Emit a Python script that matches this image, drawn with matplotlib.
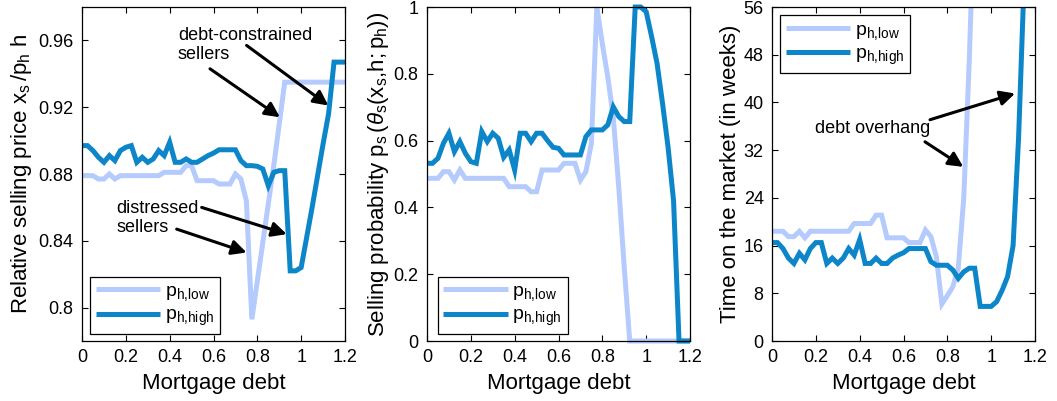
import numpy as np
import matplotlib
matplotlib.use("Agg")
import matplotlib.pyplot as plt

plt.rcParams['font.family'] = ['Liberation Sans', 'DejaVu Sans']
plt.rcParams['mathtext.fontset'] = 'custom'
plt.rcParams['mathtext.rm'] = 'Liberation Sans'
plt.rcParams['mathtext.it'] = 'Liberation Sans:italic'

# ---- data ----
debt = np.linspace(0, 1.2, 49)

price_low = [0.879, 0.879, 0.879, 0.877, 0.877, 0.880, 0.877, 0.879, 0.879, 0.879,
             0.879, 0.879, 0.879, 0.879, 0.879, 0.881, 0.881, 0.881, 0.881, 0.885,
             0.885, 0.876, 0.876, 0.876, 0.876, 0.874, 0.874, 0.874, 0.880, 0.877,
             0.864, 0.793, 0.816, 0.839, 0.862, 0.885, 0.910, 0.935, 0.935, 0.935,
             0.935, 0.935, 0.935, 0.935, 0.935, 0.935, 0.935, 0.935, 0.935]
price_high = [0.897, 0.897, 0.894, 0.890, 0.887, 0.891, 0.888, 0.894, 0.896, 0.897,
              0.887, 0.890, 0.887, 0.889, 0.894, 0.891, 0.899, 0.887, 0.887, 0.889,
              0.887, 0.887, 0.889, 0.891, 0.8925, 0.8945, 0.8945, 0.8945, 0.8945, 0.888,
              0.885, 0.885, 0.8846, 0.883, 0.873, 0.881, 0.882, 0.882, 0.822, 0.822,
              0.824, 0.842, 0.860, 0.879, 0.898, 0.916, 0.947, 0.947, 0.947]

prob_low = [0.487, 0.487, 0.487, 0.507, 0.507, 0.482, 0.512, 0.487, 0.487, 0.487,
            0.487, 0.487, 0.487, 0.487, 0.487, 0.462, 0.462, 0.462, 0.462, 0.447,
            0.447, 0.512, 0.512, 0.512, 0.512, 0.532, 0.532, 0.532, 0.482, 0.507,
            0.592, 1.0, 0.89, 0.79, 0.67, 0.46, 0.22, 0.0, 0.0, 0.0,
            0.0, 0.0, 0.0, 0.0, 0.0, 0.0, 0.0, 0.0, 0.0]
prob_high = [0.532, 0.532, 0.547, 0.592, 0.622, 0.567, 0.597, 0.562, 0.537, 0.532,
             0.627, 0.597, 0.622, 0.607, 0.550, 0.572, 0.512, 0.622, 0.622, 0.597,
             0.622, 0.622, 0.600, 0.580, 0.577, 0.557, 0.557, 0.557, 0.557, 0.612,
             0.632, 0.632, 0.632, 0.647, 0.701, 0.672, 0.657, 0.657, 1.0, 1.0,
             0.986, 0.911, 0.83, 0.71, 0.58, 0.42, 0.0, 0.0, 0.0]

nan = np.nan
tom_low = [18.4, 18.4, 18.4, 17.5, 17.5, 18.4, 17.3, 18.4, 18.4, 18.4,
           18.4, 18.4, 18.4, 18.4, 18.4, 19.7, 19.7, 19.7, 19.7, 21.1,
           21.1, 17.3, 17.3, 17.3, 17.3, 16.5, 16.5, 16.5, 18.6, 17.5,
           14.1, 6.2, 7.6, 9.1, 12.3, 24.0, 47.0, 75.0, nan, nan,
           nan, nan, nan, nan, nan, nan, nan, nan, nan]
tom_high = [16.5, 16.5, 15.5, 13.9, 13.0, 14.7, 13.6, 15.5, 16.5, 16.5,
            13.0, 13.9, 13.0, 13.9, 15.5, 14.4, 17.0, 13.0, 13.0, 13.9,
            13.0, 13.0, 13.9, 14.4, 14.8, 15.5, 15.5, 15.5, 15.5, 13.3,
            12.7, 12.7, 12.7, 11.9, 10.5, 11.6, 12.2, 12.2, 5.8, 5.8,
            5.8, 6.6, 8.5, 10.8, 16.0, 34.0, 60.0, nan, nan]

xticks = [0, 0.2, 0.4, 0.6, 0.8, 1.0, 1.2]
xticklabels = ['0', '0.2', '0.4', '0.6', '0.8', '1', '1.2']
legend_labels = [r'$\mathregular{p_{h{,}low}}$', r'$\mathregular{p_{h{,}high}}$']

c_low = '#B5CBFD'
c_high = '#0C86C8'
LW = 3.6
TICK_FS = 13
LAB_FS = 16
ANN_FS = 13

fig = plt.figure(figsize=(10.57, 4.01), dpi=100)
W, H = 1057, 401
def pos(l, r):
    return [l / W, (H - 341) / H, (r - l) / W, 334 / H]

ax1 = fig.add_axes(pos(82, 345))
ax2 = fig.add_axes(pos(427, 690))
ax3 = fig.add_axes(pos(772, 1035))

def style(ax):
    ax.set_xlim(0, 1.2)
    ax.set_xticks(xticks)
    ax.set_xticklabels(xticklabels)
    ax.tick_params(direction='in', top=True, right=True, length=4, width=0.8,
                   labelsize=TICK_FS, pad=6)
    for s in ax.spines.values():
        s.set_linewidth(0.9)
    ax.set_xlabel('Mortgage debt', fontsize=LAB_FS, labelpad=5)

kw = dict(lw=LW, solid_joinstyle='miter', solid_capstyle='butt')

# Panel 1
ax1.plot(debt, price_low, color=c_low, label=legend_labels[0], **kw)
ax1.plot(debt, price_high, color=c_high, label=legend_labels[1], **kw)
ax1.set_ylim(0.78, 0.98)
ax1.set_yticks([0.8, 0.84, 0.88, 0.92, 0.96])
ax1.set_yticklabels(['0.8', '0.84', '0.88', '0.92', '0.96'])
ax1.set_ylabel(r'Relative selling price $\mathregular{x_s\,/p_h}$ h', fontsize=LAB_FS, labelpad=3)
style(ax1)

# Panel 2
ax2.plot(debt, prob_low, color=c_low, label=legend_labels[0], clip_on=False, **kw)
ax2.plot(debt, prob_high, color=c_high, label=legend_labels[1], clip_on=False, **kw)
ax2.set_ylim(0, 1)
ax2.set_yticks([0, 0.2, 0.4, 0.6, 0.8, 1.0])
ax2.set_yticklabels(['0', '0.2', '0.4', '0.6', '0.8', '1'])
ax2.set_ylabel(r'Selling probability $\mathregular{p_s\,(}\theta_\mathregular{s}\mathregular{(x_s{,}h{;}p_h))}$',
               fontsize=LAB_FS, labelpad=2)
style(ax2)

# Panel 3
ax3.plot(debt, tom_low, color=c_low, label=legend_labels[0], **kw)
ax3.plot(debt, tom_high, color=c_high, label=legend_labels[1], **kw)
ax3.set_ylim(0, 56)
ax3.set_yticks(np.arange(0, 57, 8))
ax3.set_ylabel('Time on the market (in weeks)', fontsize=LAB_FS, labelpad=2)
style(ax3)

leg_kw = dict(fontsize=14, frameon=True, fancybox=False, framealpha=1, edgecolor='black',
              handlelength=3.3, handletextpad=0.25, borderpad=0.3, labelspacing=0.2,
              borderaxespad=0.0)
for ax, loc, anchor in [(ax1, 'lower left', (0.03, 0.02)), (ax2, 'lower left', (0.04, 0.02)),
                        (ax3, 'upper left', (0.03, 0.975))]:
    lg = ax.legend(loc=loc, bbox_to_anchor=anchor, **leg_kw)
    lg.get_frame().set_linewidth(0.9)

arrow = dict(arrowstyle='-|>', color='black', lw=2.2, mutation_scale=22,
             shrinkA=0, shrinkB=0)

# annotations panel 1
ax1.text(0.438, 0.957, 'debt-constrained\nsellers', fontsize=ANN_FS, ha='left', va='center',
         linespacing=1.15)
ax1.annotate('', xy=(0.903, 0.914), xytext=(0.584, 0.943), arrowprops=arrow)
ax1.annotate('', xy=(1.124, 0.921), xytext=(0.751, 0.957), arrowprops=arrow)
ax1.text(0.158, 0.8535, 'distressed\nsellers', fontsize=ANN_FS, ha='left', va='center',
         linespacing=1.15)
ax1.annotate('', xy=(0.934, 0.844), xytext=(0.546, 0.860), arrowprops=arrow)
ax1.annotate('', xy=(0.751, 0.833), xytext=(0.432, 0.847), arrowprops=arrow)

# annotations panel 3
ax3.text(0.196, 35.7, 'debt overhang', fontsize=ANN_FS, ha='left', va='center')
ax3.annotate('', xy=(1.109, 41.5), xytext=(0.721, 37.1), arrowprops=arrow)
ax3.annotate('', xy=(0.873, 29.2), xytext=(0.698, 33.4), arrowprops=arrow)

fig.savefig('out.png', dpi=100)
